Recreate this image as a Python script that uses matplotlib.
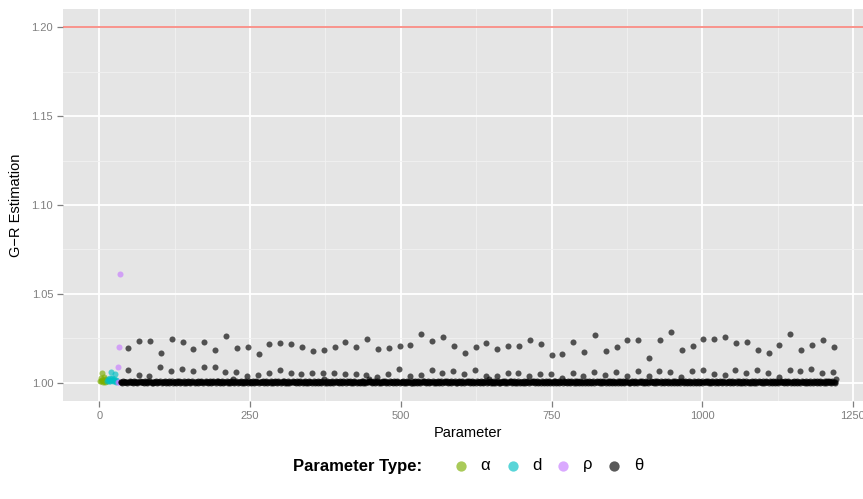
import matplotlib
matplotlib.use("Agg")
import matplotlib.pyplot as plt
from matplotlib.ticker import FixedLocator

plt.rcParams['font.family'] = ['Liberation Sans', 'DejaVu Sans']

# ---------------- data ----------------
alpha_x = list(range(1, 13))
alpha_vals = [1.0012, 1.0028, 1.0008, 1.0055, 1.0016, 1.0004, 1.0033, 1.0010,
              1.0021, 1.0006, 1.0014, 1.0009]

d_x = list(range(13, 30))
d_vals = [1.0010, 1.0022, 1.0015, 1.0008, 1.0030, 1.0012, 1.0064, 1.0018, 1.0025,
          1.0009, 1.0014, 1.0020, 1.0050, 1.0011, 1.0016, 1.0007, 1.0013]

rho_x = [30, 31, 32, 33, 34]
rho_vals = [1.0005, 1.0088, 1.0003, 1.0203, 1.0612]

theta_start = 35
theta_group = 18
upper_pos = 13
middle_pos = 12

theta_upper = [
    1.0194, 1.0237, 1.0237, 1.0170, 1.0245, 1.0228, 1.0188, 1.0228, 1.0183,
    1.0265, 1.0194, 1.0200, 1.0160, 1.0216, 1.0224, 1.0220, 1.0204, 1.0181, 1.0183, 1.0202, 1.0232,
    1.0202, 1.0245, 1.0188, 1.0196, 1.0209, 1.0213, 1.0273, 1.0236, 1.0260, 1.0209, 1.0168,
    1.0202, 1.0224, 1.0188, 1.0205, 1.0205, 1.0243, 1.0219, 1.0155, 1.0163, 1.0228, 1.0172, 1.0269,
    1.0177, 1.0200, 1.0241, 1.0239, 1.0142, 1.0239, 1.0284, 1.0187, 1.0205, 1.0245, 1.0245,
    1.0258, 1.0222, 1.0232, 1.0185, 1.0166, 1.0215, 1.0275, 1.0183, 1.0215, 1.0243, 1.0204,
]

theta_middle = [
    1.0073, 1.0045, 1.0037, 1.0087, 1.0069, 1.0076, 1.0069, 1.0090, 1.0087,
    1.0063, 1.0063, 1.0039, 1.0047, 1.0056, 1.0075, 1.0056, 1.0048, 1.0056, 1.0058, 1.0058, 1.0048,
    1.0050, 1.0047, 1.0035, 1.0048, 1.0076, 1.0037, 1.0047, 1.0071, 1.0056, 1.0067, 1.0048,
    1.0075, 1.0039, 1.0039, 1.0058, 1.0058, 1.0037, 1.0048, 1.0048, 1.0026, 1.0058, 1.0039, 1.0063,
    1.0043, 1.0059, 1.0037, 1.0069, 1.0039, 1.0065, 1.0059, 1.0035, 1.0065, 1.0075, 1.0048,
    1.0045, 1.0075, 1.0056, 1.0071, 1.0056, 1.0031, 1.0071, 1.0067, 1.0079, 1.0054, 1.0059,
]

# dense band of theta values near 1.000, one digit per parameter
# (value = 1 + digit * base_step), 16 per group of 18
base_step = 0.00025
theta_base_codes = [
    "2130 4123 2103 1241", "1302 5121 3021 4213", "3120 4132 0124 1302", "0213 4120 3124 0312",
    "2413 0213 5021 4031", "1204 3124 1023 1402", "3021 4312 0314 2103", "1240 3214 1203 2413",
    "2031 4203 1412 0341", "4120 3124 0123 4102", "1302 4182 0314 2031", "2140 3120 4312 0413",
    "0312 4013 2412 0312", "3214 0213 4021 3041", "1032 4120 3142 0314", "2401 3204 1302 1342",
    "1320 4123 0412 3021", "4021 3024 1320 1430", "2310 4212 0314 8203", "0412 3021 4302 1342",
    "3102 4120 3412 0413", "1243 0213 0421 3021", "2031 4204 1302 1384", "4130 2142 0314 2013",
    "0214 3124 0213 0421", "3201 4120 3421 0312", "1420 3102 4312 0403", "2034 1204 1230 2143",
    "4102 3142 0132 4102", "1302 1430 2140 2314", "2413 0213 0412 3402", "0321 4203 1420 1342",
    "3140 2134 0213 0421", "1203 4120 3142 0138", "2410 3204 1302 4103", "0312 4120 4310 2341",
    "4201 3402 1304 2013", "1032 4023 1420 1342", "2140 3124 0312 0431", "3021 4302 1403 1204",
    "1402 3120 4132 0341", "2130 4213 0421 0342", "0413 2014 3201 3024", "3204 1203 1420 3142",
    "1320 4130 2413 0214", "2041 3204 1302 1403", "4120 3412 0341 2031", "0314 2031 4201 3421",
    "2403 1204 3120 3142", "1230 4120 4132 0413", "3102 4132 0412 0342", "2041 3021 4302 4130",
    "1432 0134 0213 0421", "0213 4203 1240 3124", "3124 0312 0413 2041", "1302 4130 2143 0213",
    "2410 3214 0312 0431", "4031 2041 3204 1320", "1204 3120 4130 2413", "3120 4203 1412 0342",
    "0342 1304 2130 2413", "2130 4120 3421 3021", "1403 2140 3120 4132", "3021 4031 2041 3024",
    "2314 0213 0412 3041", "1042 3142 0314 2038",
]

threshold = 1.20

legend_title = "Parameter Type:"
legend_labels = ["α", "d", "ρ", "θ"]
colors = ["#7CAE00", "#00BFC4", "#C77CFF", "#000000"]

x_ticks = [0, 250, 500, 750, 1000, 1250]
y_ticks = [1.00, 1.05, 1.10, 1.15, 1.20]


def build_theta():
    xs, ys = [], []
    base_positions = [p for p in range(theta_group) if p not in (upper_pos, middle_pos)]
    for k, code in enumerate(theta_base_codes):
        x0 = theta_start + k * theta_group
        digits = code.replace(" ", "")
        for p, ch in zip(base_positions, digits):
            xs.append(x0 + p)
            ys.append(1.0 + int(ch) * base_step)
        xs.append(x0 + middle_pos)
        ys.append(theta_middle[k])
        xs.append(x0 + upper_pos)
        ys.append(theta_upper[k])
    return xs, ys


theta_x, theta_vals = build_theta()

# ---------------- figure ----------------
W, H = 863, 499
fig = plt.figure(figsize=(W / 100, H / 100), dpi=100)
fig.patch.set_facecolor("white")

left_px, right_px, top_px, bottom_px = 63.3, 872.8, 9.3, 400.7
ax = fig.add_axes([left_px / W, (H - bottom_px) / H,
                   (right_px - left_px) / W, (bottom_px - top_px) / H])
ax.set_facecolor("#E5E5E5")
for s in ax.spines.values():
    s.set_visible(False)

ax.set_xlim(-60, 1283)
ax.set_ylim(0.99, 1.21)
ax.xaxis.set_major_locator(FixedLocator(x_ticks))
ax.xaxis.set_minor_locator(FixedLocator([125, 375, 625, 875, 1125]))
ax.yaxis.set_major_locator(FixedLocator(y_ticks))
ax.yaxis.set_minor_locator(FixedLocator([1.025, 1.075, 1.125, 1.175]))
ax.set_xticklabels([str(v) for v in x_ticks])
ax.set_yticklabels(["%.2f" % v for v in y_ticks])

ax.grid(which="major", color="white", linewidth=1.3)
ax.grid(which="minor", color="#F2F2F2", linewidth=0.6)
ax.set_axisbelow(True)

ax.tick_params(which="major", length=4.3, width=0.9, color="#7F7F7F",
               labelcolor="#7F7F7F", labelsize=8, pad=3)
ax.tick_params(which="minor", length=0)

ax.set_xlabel("Parameter", fontsize=10.5, labelpad=4)
ax.set_ylabel("G\u2212R Estimation", fontsize=10.5, labelpad=6)

ax.axhline(threshold, color="#F8766D", linewidth=1.1, zorder=2)

pt_alpha = 0.65
ax.scatter(alpha_x, alpha_vals, s=19, color=colors[0], alpha=pt_alpha, linewidths=0, zorder=3)
ax.scatter(d_x, d_vals, s=19, color=colors[1], alpha=pt_alpha, linewidths=0, zorder=3)
ax.scatter(rho_x, rho_vals, s=19, color=colors[2], alpha=pt_alpha, linewidths=0, zorder=3)
ax.scatter(theta_x, theta_vals, s=19, color=colors[3], alpha=pt_alpha, linewidths=0, zorder=3)

# ---------------- legend (bottom) ----------------
lg = fig.add_axes([0, 0, 1, 1], zorder=5)
lg.set_xlim(0, W)
lg.set_ylim(H, 0)
lg.axis("off")
lg.patch.set_alpha(0)
ly = 466
lg.text(293, ly, legend_title, fontsize=12, fontweight="bold", ha="left", va="center")
key_x = [460.7, 512.7, 563.0, 614.0]
lab_x = [485.5, 537.0, 588.0, 638.5]
for kx, tx, c, lab in zip(key_x, lab_x, colors, legend_labels):
    lg.scatter([kx], [ly], s=55, color=c, alpha=pt_alpha, linewidths=0)
    lg.text(tx, ly - 1, lab, fontsize=12, ha="center", va="center")

fig.savefig("out.png", dpi=100)
